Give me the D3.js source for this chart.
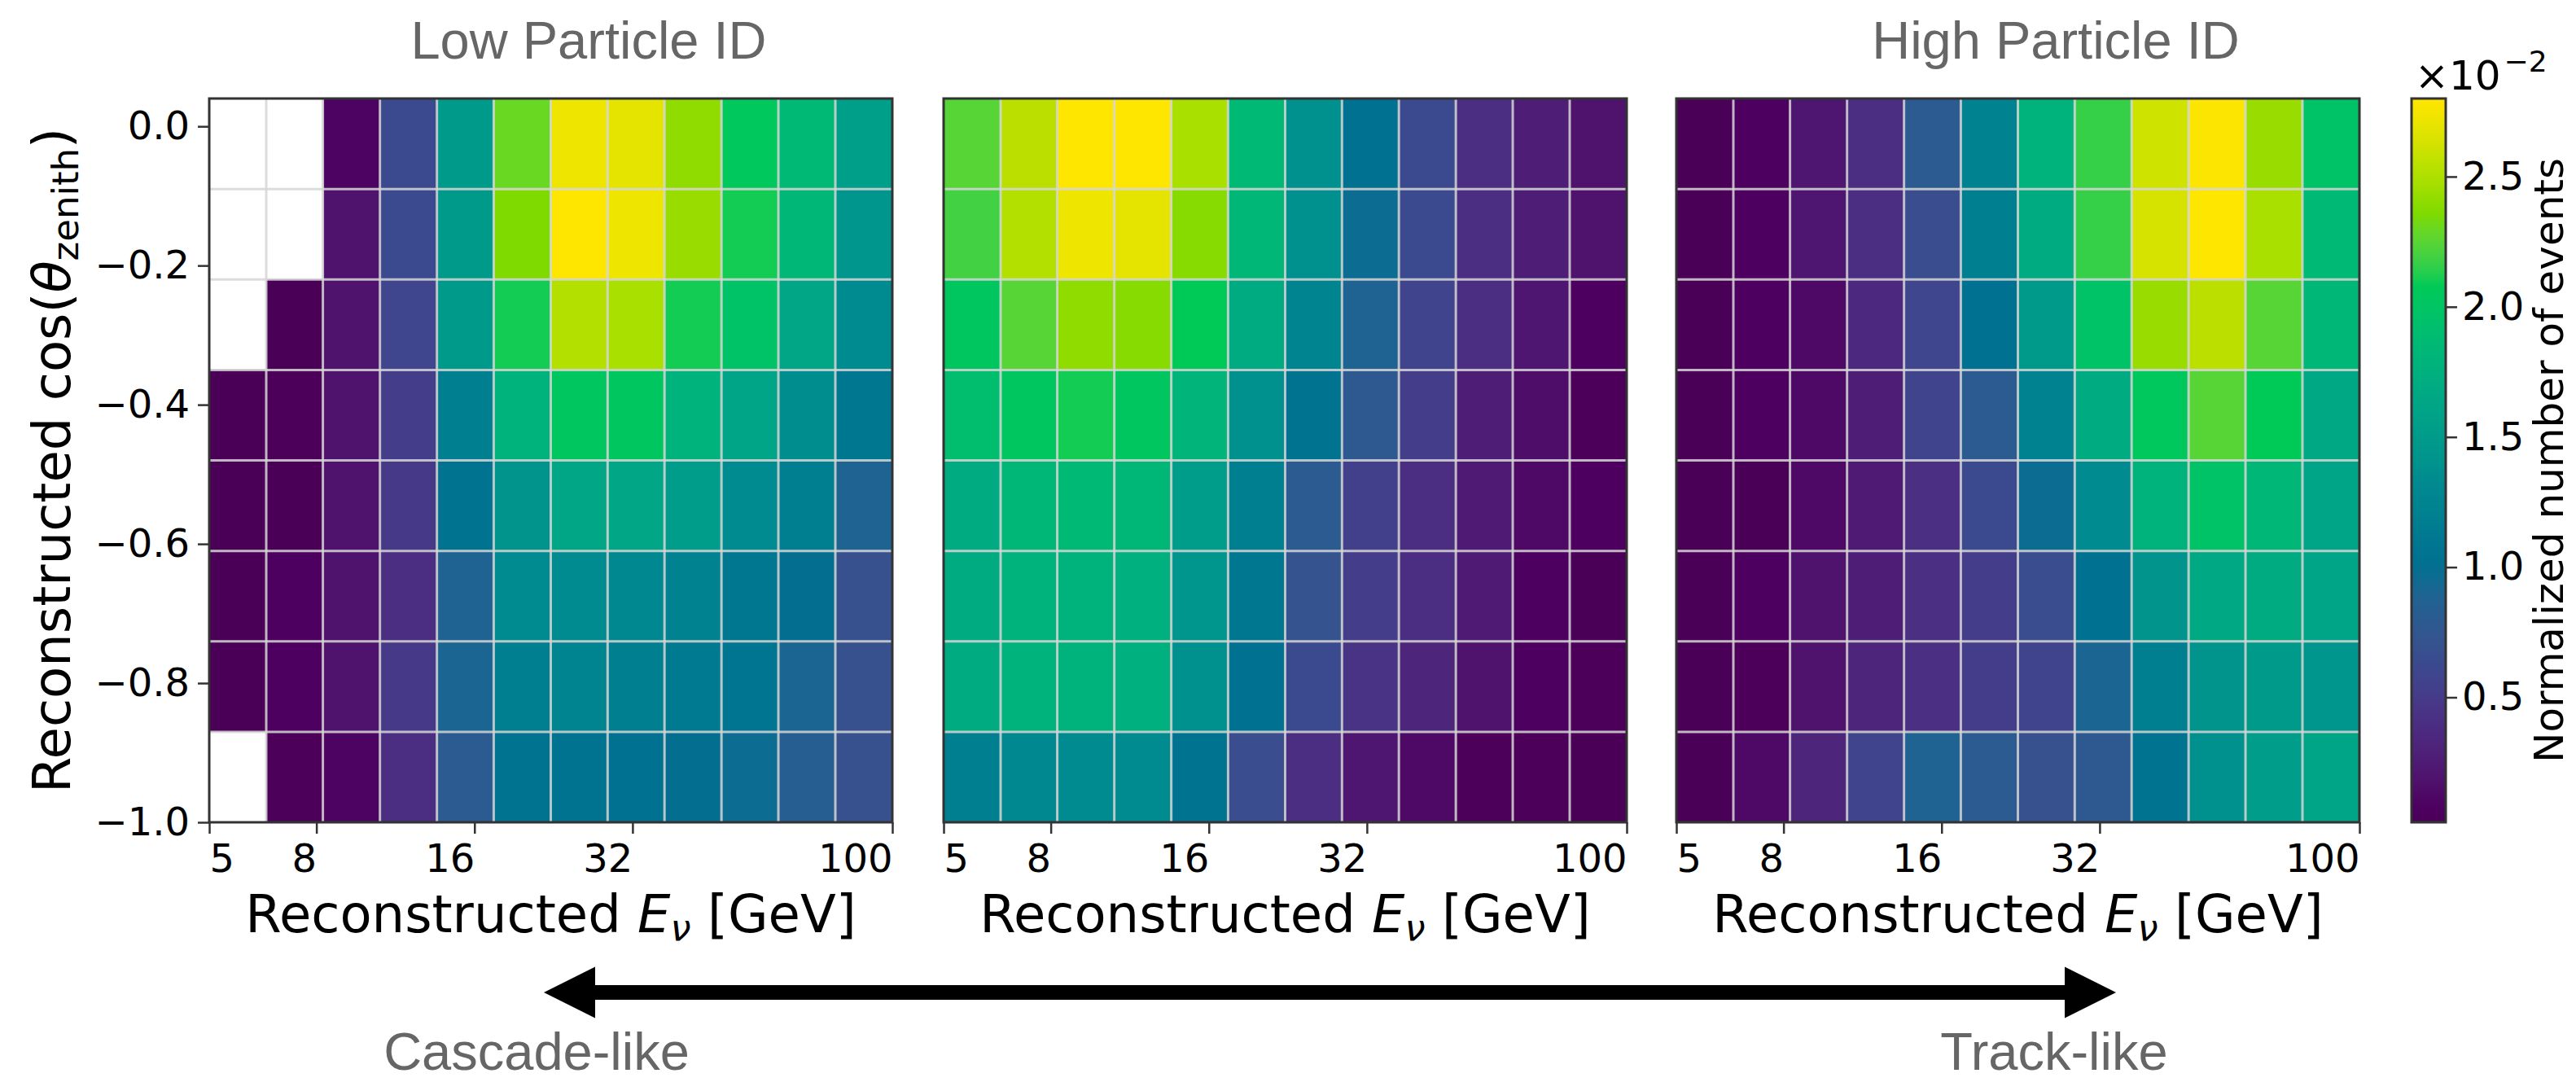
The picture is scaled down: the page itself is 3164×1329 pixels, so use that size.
<!DOCTYPE html>
<html>
<head>
<meta charset="utf-8">
<script src="https://cdn.jsdelivr.net/npm/d3@7"></script>
<style>
  body { margin: 0; background: #fff; }
  svg { display: block; }
</style>
</head>
<body>
<svg id="chart" width="3164" height="1329"></svg>
<script>
// bin edges (reconstructed energy in GeV, log spaced) and cos(zenith)
const energyEdges = [5, 6.42, 8.23, 10.57, 13.57, 17.41, 22.36, 28.69, 36.82, 47.27, 60.67, 77.89, 100];
const cosEdges = [-1.0, -0.87, -0.74, -0.61, -0.48, -0.35, -0.22, -0.09, 0.04];
const energyTicks = [5, 8, 16, 32, 100];
const cosTicks = [-1.0, -0.8, -0.6, -0.4, -0.2, 0.0];
const colorTicks = [0.5, 1.0, 1.5, 2.0, 2.5];
const panelTitles = ["Low Particle ID", "", "High Particle ID"];

// normalized number of events (x 1e-2), rows listed from top (cos ~ 0) to bottom (cos = -1)
const lowPID = [
  [null, null, 0.10, 0.63, 1.49, 2.30, 2.72, 2.69, 2.41, 2.05, 1.85, 1.55],
  [null, null, 0.19, 0.63, 1.49, 2.36, 2.80, 2.72, 2.44, 2.11, 1.83, 1.45],
  [null, 0.02, 0.19, 0.60, 1.49, 2.11, 2.52, 2.49, 2.11, 1.97, 1.63, 1.33],
  [0.02, 0.05, 0.19, 0.52, 1.19, 1.77, 2.02, 2.02, 1.77, 1.60, 1.35, 1.10],
  [0.02, 0.02, 0.19, 0.49, 1.05, 1.41, 1.63, 1.63, 1.52, 1.33, 1.19, 0.88],
  [0.02, 0.08, 0.19, 0.38, 0.88, 1.33, 1.33, 1.30, 1.22, 1.10, 0.99, 0.69],
  [0.02, 0.08, 0.19, 0.49, 0.91, 1.19, 1.24, 1.19, 1.13, 1.08, 0.91, 0.69],
  [null, 0.05, 0.10, 0.38, 0.80, 1.05, 1.05, 1.02, 0.99, 0.97, 0.83, 0.69]
];
const midPID = [
  [2.24, 2.55, 2.80, 2.80, 2.49, 1.85, 1.38, 1.02, 0.63, 0.38, 0.27, 0.19],
  [2.19, 2.52, 2.72, 2.69, 2.38, 1.83, 1.38, 0.97, 0.63, 0.38, 0.27, 0.19],
  [2.02, 2.24, 2.41, 2.38, 2.08, 1.69, 1.24, 0.88, 0.58, 0.38, 0.21, 0.08],
  [1.91, 2.02, 2.11, 2.02, 1.80, 1.38, 1.05, 0.77, 0.52, 0.27, 0.16, 0.05],
  [1.69, 1.83, 1.85, 1.83, 1.52, 1.19, 0.80, 0.55, 0.38, 0.24, 0.13, 0.08],
  [1.69, 1.77, 1.77, 1.74, 1.44, 1.10, 0.72, 0.52, 0.38, 0.24, 0.08, 0.02],
  [1.69, 1.77, 1.77, 1.74, 1.38, 1.02, 0.63, 0.44, 0.33, 0.19, 0.08, 0.05],
  [1.19, 1.30, 1.33, 1.33, 1.05, 0.66, 0.38, 0.21, 0.13, 0.05, 0.05, 0.02]
];
const highPID = [
  [0.02, 0.08, 0.21, 0.38, 0.80, 1.22, 1.77, 2.16, 2.61, 2.77, 2.44, 1.97],
  [0.02, 0.08, 0.21, 0.38, 0.66, 1.19, 1.69, 2.16, 2.63, 2.80, 2.49, 1.85],
  [0.02, 0.08, 0.13, 0.35, 0.60, 1.02, 1.49, 1.97, 2.44, 2.55, 2.24, 1.83],
  [0.02, 0.08, 0.13, 0.27, 0.58, 0.80, 1.22, 1.69, 2.05, 2.24, 2.08, 1.66],
  [0.02, 0.02, 0.13, 0.24, 0.41, 0.63, 0.97, 1.33, 1.77, 1.97, 1.83, 1.60],
  [0.02, 0.08, 0.19, 0.27, 0.41, 0.52, 0.66, 1.02, 1.41, 1.66, 1.69, 1.60],
  [0.02, 0.05, 0.19, 0.33, 0.41, 0.52, 0.58, 0.91, 1.19, 1.41, 1.49, 1.44],
  [0.02, 0.13, 0.33, 0.58, 0.88, 0.80, 0.69, 0.77, 1.05, 1.38, 1.52, 1.60]
];
const panels = [lowPID, midPID, highPID];
const colorRange = [0.02, 2.8];

// the original was rendered with a wide-gamut profile, so push viridis the same way
function wideGamut(c) {
  const rgb = d3.rgb(c);
  const lin = v => { v /= 255; return v <= 0.04045 ? v / 12.92 : Math.pow((v + 0.055) / 1.055, 2.4); };
  const enc = v => { v = Math.max(0, Math.min(1, v)); return 255 * (v <= 0.0031308 ? 12.92 * v : 1.055 * Math.pow(v, 1 / 2.4) - 0.055); };
  const r = lin(rgb.r), g = lin(rgb.g), b = lin(rgb.b);
  return d3.rgb(enc(1.2249 * r - 0.2247 * g), enc(-0.0420 * r + 1.0419 * g), enc(-0.0197 * r - 0.0786 * g + 1.0979 * b)).formatHex();
}

const svg = d3.select("#chart");
const tickFont = "'DejaVu Sans', sans-serif";
const titleFont = "'Liberation Sans', Arial, sans-serif";

const panelLeft = [257, 1159, 2059];
const panelW = 839;
const plotTop = 121, plotBottom = 1010;

const color = d3.scaleSequential(t => wideGamut(d3.interpolateViridis(t))).domain(colorRange);
const y = d3.scaleLinear().domain([cosEdges[0], cosEdges[cosEdges.length - 1]]).range([plotBottom, plotTop]);
const nRows = cosEdges.length - 1;

panels.forEach((grid, p) => {
  const x = d3.scaleLog().domain([energyEdges[0], energyEdges[energyEdges.length - 1]])
    .range([panelLeft[p], panelLeft[p] + panelW]);
  const g = svg.append("g");

  const cells = [];
  grid.forEach((row, i) => row.forEach((v, j) => {
    if (v != null) cells.push({ v, j, lo: cosEdges[nRows - 1 - i], hi: cosEdges[nRows - i] });
  }));

  g.selectAll("rect.cell").data(cells).enter().append("rect")
    .attr("class", "cell")
    .attr("x", d => x(energyEdges[d.j]))
    .attr("width", d => x(energyEdges[d.j + 1]) - x(energyEdges[d.j]))
    .attr("y", d => y(d.hi))
    .attr("height", d => y(d.lo) - y(d.hi))
    .attr("fill", d => color(d.v))
    .attr("shape-rendering", "crispEdges");

  // light grid along the bin edges
  g.selectAll("line.vgrid").data(energyEdges.slice(1, -1)).enter().append("line")
    .attr("x1", d => x(d)).attr("x2", d => x(d))
    .attr("y1", plotTop).attr("y2", plotBottom)
    .attr("stroke", "#d6d6d6").attr("stroke-opacity", 0.85).attr("stroke-width", 3);
  g.selectAll("line.hgrid").data(cosEdges.slice(1, -1)).enter().append("line")
    .attr("x1", panelLeft[p]).attr("x2", panelLeft[p] + panelW)
    .attr("y1", d => y(d)).attr("y2", d => y(d))
    .attr("stroke", "#d6d6d6").attr("stroke-opacity", 0.85).attr("stroke-width", 3);

  g.append("rect")
    .attr("x", panelLeft[p]).attr("y", plotTop)
    .attr("width", panelW).attr("height", plotBottom - plotTop)
    .attr("fill", "none").attr("stroke", "#333").attr("stroke-width", 3);

  const xAxis = g.append("g").attr("transform", `translate(0,${plotBottom})`)
    .call(d3.axisBottom(x).tickValues(energyTicks).tickFormat(d3.format("d")).tickSize(14).tickPadding(13));
  xAxis.select(".domain").remove();
  xAxis.selectAll("line").attr("stroke", "#333").attr("stroke-width", 2.5);
  // labels sit to the left of their tick, except the first one
  xAxis.selectAll("text").attr("font-family", tickFont).attr("font-size", 48).attr("fill", "#000")
    .attr("text-anchor", (d, i) => i === 0 ? "start" : "end");

  if (p === 0) {
    const yAxis = g.append("g").attr("transform", `translate(${panelLeft[p]},0)`)
      .call(d3.axisLeft(y).tickValues(cosTicks).tickFormat(d3.format(".1f")).tickSize(14).tickPadding(10));
    yAxis.select(".domain").remove();
    yAxis.selectAll("line").attr("stroke", "#333").attr("stroke-width", 2.5);
    yAxis.selectAll("text").attr("font-family", tickFont).attr("font-size", 48).attr("fill", "#000");
  }

  // x label with math-style E_nu
  const xl = svg.append("text")
    .attr("x", panelLeft[p] + panelW / 2).attr("y", 1145)
    .attr("text-anchor", "middle")
    .attr("font-family", tickFont).attr("font-size", 64).attr("fill", "#000");
  xl.append("tspan").text("Reconstructed ");
  xl.append("tspan").attr("font-style", "italic").text("E");
  xl.append("tspan").attr("font-style", "italic").attr("font-size", 45).attr("dy", 10).text("ν");
  xl.append("tspan").attr("dy", -10).text(" [GeV]");

  if (panelTitles[p]) {
    svg.append("text")
      .attr("x", p === 0 ? 723 : 2525).attr("y", 72)
      .attr("text-anchor", "middle")
      .attr("font-family", titleFont).attr("font-size", 65).attr("fill", "#666")
      .text(panelTitles[p]);
  }
});

// y label
const yl = svg.append("text")
  .attr("transform", `translate(86,${(plotTop + plotBottom) / 2}) rotate(-90)`)
  .attr("text-anchor", "middle")
  .attr("font-family", tickFont).attr("font-size", 64).attr("fill", "#000");
yl.append("tspan").text("Reconstructed cos(");
yl.append("tspan").attr("font-style", "italic").text("θ");
yl.append("tspan").attr("font-size", 45).attr("dy", 10).text("zenith");
yl.append("tspan").attr("dy", -10).text(")");

// colorbar
const cbX = 2962, cbW = 42;
const cbScale = d3.scaleLinear().domain(colorRange).range([plotBottom, plotTop]);
const grad = svg.append("defs").append("linearGradient")
  .attr("id", "cbgrad").attr("x1", 0).attr("x2", 0).attr("y1", 1).attr("y2", 0);
grad.selectAll("stop").data(d3.range(0, 1.0001, 0.02)).enter().append("stop")
  .attr("offset", d => d)
  .attr("stop-color", d => color(colorRange[0] + d * (colorRange[1] - colorRange[0])));
svg.append("rect")
  .attr("x", cbX).attr("y", plotTop).attr("width", cbW).attr("height", plotBottom - plotTop)
  .attr("fill", "url(#cbgrad)").attr("stroke", "#333").attr("stroke-width", 3);
const cbAxis = svg.append("g").attr("transform", `translate(${cbX + cbW},0)`)
  .call(d3.axisRight(cbScale).tickValues(colorTicks).tickFormat(d3.format(".1f")).tickSize(14).tickPadding(6));
cbAxis.select(".domain").remove();
cbAxis.selectAll("line").attr("stroke", "#333").attr("stroke-width", 2.5);
cbAxis.selectAll("text").attr("font-family", tickFont).attr("font-size", 48).attr("fill", "#000");

const mult = svg.append("text").attr("x", 2966).attr("y", 110)
  .attr("font-family", tickFont).attr("font-size", 50).attr("fill", "#000");
mult.append("tspan").text("×10");
mult.append("tspan").attr("font-size", 36).attr("dy", -22).attr("dx", 4).text("−2");

svg.append("text")
  .attr("transform", `translate(3148,${(plotTop + plotBottom) / 2}) rotate(-90)`)
  .attr("text-anchor", "middle")
  .attr("font-family", tickFont).attr("font-size", 50).attr("fill", "#000")
  .text("Normalized number of events");

// double-headed arrow: cascade-like <-> track-like
const ay = 1219, aL = 668, aR = 2599, head = 63, hw = 31.5, sw = 9;
svg.append("path")
  .attr("d", `M${aL},${ay} L${aL + head},${ay - hw} L${aL + head},${ay - sw} L${aR - head},${ay - sw} ` +
    `L${aR - head},${ay - hw} L${aR},${ay} L${aR - head},${ay + hw} L${aR - head},${ay + sw} ` +
    `L${aL + head},${ay + sw} L${aL + head},${ay + hw} Z`)
  .attr("fill", "#000");

svg.append("text").attr("x", 659).attr("y", 1314).attr("text-anchor", "middle")
  .attr("font-family", titleFont).attr("font-size", 65).attr("fill", "#666").text("Cascade-like");
svg.append("text").attr("x", 2523).attr("y", 1314).attr("text-anchor", "middle")
  .attr("font-family", titleFont).attr("font-size", 65).attr("fill", "#666").text("Track-like");
</script>
</body>
</html>
